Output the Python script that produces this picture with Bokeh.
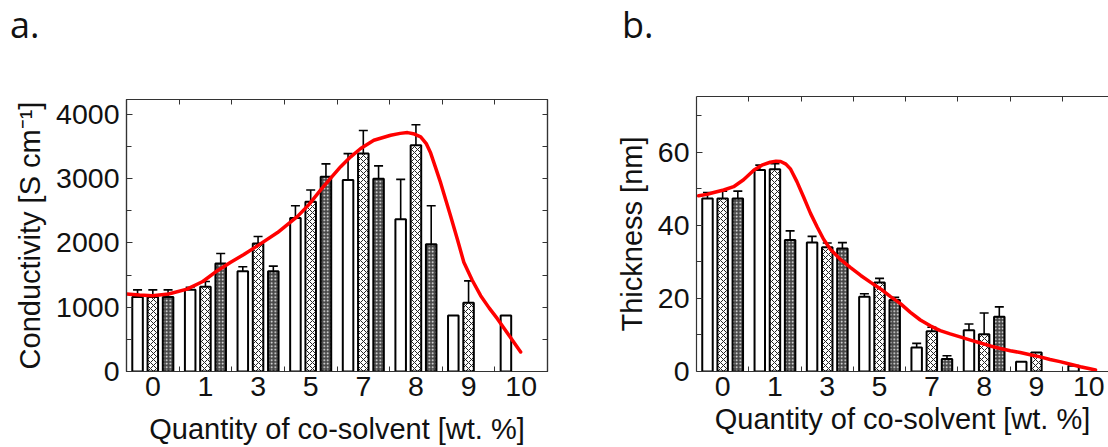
from bokeh.plotting import figure
from bokeh.layouts import row, column
from bokeh.models import ColumnDataSource, FixedTicker, LinearAxis, Range1d, Whisker, TeeHead, Div
from bokeh.embed import file_html
from bokeh.resources import INLINE

# ---------------- data ----------------
categories = ["0", "1", "3", "5", "7", "8", "9", "10"]

cond_open = [1160, 1270, 1560, 2390, 2980, 2370, 870, 870]
cond_open_err = [110, 40, 70, 190, 410, 620, 0, 0]
cond_cross = [1160, 1320, 1990, 2640, 3390, 3520, 1070, 0]
cond_cross_err = [110, 80, 110, 185, 360, 320, 340, 0]
cond_dense = [1160, 1680, 1560, 3030, 3000, 1980, 0, 0]
cond_dense_err = [110, 155, 80, 200, 200, 600, 0, 0]

# red guide curve (x in category-slot units, y in S/cm)
cond_fit_x = [0.0, 0.25, 0.49, 0.80, 1.15, 1.45, 1.72, 1.98, 2.23, 2.48, 2.87, 3.25,
              3.47, 3.69, 3.88, 4.07, 4.26, 4.45, 4.70, 5.02, 5.20, 5.34, 5.45, 5.59,
              5.70, 5.78, 5.87, 5.97, 6.07, 6.16, 6.29, 6.41, 6.57, 6.73, 6.89, 7.05,
              7.27, 7.49]
cond_fit_y = [1205, 1190, 1180, 1205, 1282, 1400, 1565, 1700, 1820, 1951, 2162, 2414,
              2600, 2826, 3010, 3187, 3340, 3470, 3598, 3676, 3705, 3717, 3700, 3650,
              3540, 3398, 3180, 2934, 2660, 2414, 2050, 1700, 1420, 1180, 990, 818,
              560, 304]

thick_open = [47.4, 55.2, 35.3, 20.5, 6.6, 11.3, 2.7, 1.6]
thick_open_err = [1.6, 1.3, 1.7, 0.8, 1.1, 1.7, 0, 0]
thick_cross = [47.4, 55.4, 34.0, 24.4, 11.0, 10.2, 5.2, 0]
thick_cross_err = [2.0, 1.5, 1.2, 1.1, 1.1, 5.8, 0, 0]
thick_dense = [47.4, 36.0, 33.7, 19.6, 3.4, 15.0, 0, 0]
thick_dense_err = [2.0, 2.5, 1.6, 0.7, 0.9, 2.7, 0, 0]

thick_fit_x = [0.04, 0.20, 0.33, 0.52, 0.71, 0.90, 1.10, 1.25, 1.41, 1.52, 1.61, 1.71,
               1.80, 1.92, 2.05, 2.18, 2.31, 2.43, 2.56, 2.75, 2.94, 3.14, 3.33, 3.52,
               3.71, 3.90, 4.09, 4.28, 4.47, 4.66, 4.85, 5.04, 5.24, 5.43, 5.62, 5.81,
               6.00, 6.19, 6.38, 6.57, 6.76, 6.95, 7.15, 7.34, 7.50, 7.63]
thick_fit_y = [48.1, 48.5, 49.0, 49.7, 50.6, 52.5, 55.2, 56.5, 57.3, 57.6, 57.5, 56.8,
               55.4, 52.0, 47.7, 43.3, 39.5, 36.2, 33.5, 30.7, 28.5, 26.3, 24.4, 22.6,
               20.5, 18.6, 16.2, 14.1, 12.5, 11.2, 10.3, 9.5, 8.6, 7.8, 7.0, 6.3,
               5.7, 5.2, 4.6, 4.0, 3.3, 2.7, 2.0, 1.3, 0.8, 0.4]

# ---------------- style ----------------
FONT = "Liberation Sans"
TXT = "#111111"
FRAME = "#333333"
OFFSETS = [-0.29, 0.0, 0.29]
BAR_W = 0.2
HEAD_H = 50
STYLES = [
    dict(fill_color="white"),
    dict(fill_color="white", hatch_pattern="diagonal_cross", hatch_color="#222222",
         hatch_scale=6, hatch_weight=1),
    dict(fill_color="#484848", hatch_pattern="dot", hatch_color="white",
         hatch_scale=3.5, hatch_weight=1.3),
]


def make_panel(series, fit_x, fit_y, ymax, yticks, yminor, ylabel, xend, width,
               border_left, border_right, border_top, border_bottom, right_frame,
               xlabel_standoff):
    n = len(categories)
    p = figure(width=width, height=447 - HEAD_H, output_backend="svg",
               toolbar_location=None,
               x_range=Range1d(0, xend), y_range=Range1d(0, ymax),
               min_border_left=border_left, min_border_right=border_right,
               min_border_top=border_top - HEAD_H, min_border_bottom=border_bottom,
               x_axis_location=None, y_axis_location=None)
    p.xgrid.visible = False
    p.ygrid.visible = False
    p.background_fill_color = "white"
    p.border_fill_color = "white"
    p.outline_line_color = FRAME if right_frame else None
    p.outline_line_width = 1.2

    centers = [i + 0.5 for i in range(n)]
    for k, (vals, errs) in enumerate(series):
        xs = [c + OFFSETS[k] for c, v in zip(centers, vals) if v > 0]
        tops = [v for v in vals if v > 0]
        p.vbar(x=xs, top=tops, bottom=0, width=BAR_W, line_color="black",
               line_width=2, **STYLES[k])
    for k, (vals, errs) in enumerate(series):
        ex = [c + OFFSETS[k] for c, v, e in zip(centers, vals, errs) if v > 0 and e > 0]
        up = [v + e for v, e in zip(vals, errs) if v > 0 and e > 0]
        lo = [v - e for v, e in zip(vals, errs) if v > 0 and e > 0]
        src = ColumnDataSource(dict(x=ex, upper=up, lower=lo))
        w = Whisker(source=src, base="x", upper="upper", lower="lower",
                    line_color="black", line_width=1.6,
                    upper_head=TeeHead(size=9, line_width=1.6, line_color="black"),
                    lower_head=TeeHead(size=9, line_width=1.6, line_color="black"))
        p.add_layout(w)

    p.line(fit_x, fit_y, line_color="#ff0000", line_width=3.5, line_join="round",
           line_cap="round")

    yl = LinearAxis(ticker=FixedTicker(ticks=yticks, minor_ticks=yminor))
    yl.axis_label = ylabel
    xb = LinearAxis(ticker=FixedTicker(ticks=centers, minor_ticks=list(range(1, n))))
    xb.major_label_overrides = {c: lab for c, lab in zip(centers, categories)}
    xb.axis_label = "Quantity of co-solvent [wt. %]"
    xt = LinearAxis(ticker=FixedTicker(ticks=[], minor_ticks=list(range(1, n))))
    axes = [(yl, "left"), (xb, "below"), (xt, "above")]
    if right_frame:
        yr = LinearAxis(ticker=FixedTicker(ticks=[], minor_ticks=sorted(yticks + yminor)))
        axes.append((yr, "right"))
    for ax, loc in axes:
        ax.axis_line_color = FRAME
        ax.axis_line_width = 1.2
        ax.major_tick_in = 6
        ax.major_tick_out = 0
        ax.minor_tick_in = 5
        ax.minor_tick_out = 0
        ax.major_tick_line_color = FRAME
        ax.minor_tick_line_color = FRAME
        ax.major_label_text_font = FONT
        ax.major_label_text_color = TXT
        ax.major_label_text_font_size = "28.5px"
        ax.axis_label_text_font = FONT
        ax.axis_label_text_font_style = "normal"
        ax.axis_label_text_color = TXT
        ax.axis_label_text_font_size = "29px"
        p.add_layout(ax, loc)
    xb.major_tick_in = 0
    xb.major_label_standoff = 5
    xb.axis_label_standoff = xlabel_standoff
    yl.major_label_standoff = 7
    yl.axis_label_standoff = 7
    xt.major_label_standoff = 0
    return p


def panel_tag(text, width, pad_left, pad_top):
    return Div(text=text, width=width, height=HEAD_H,
               styles={"font-family": "'Open Sans', sans-serif", "font-size": "36px",
                       "color": TXT, "padding-left": f"{pad_left}px",
                       "padding-top": f"{pad_top}px", "line-height": "normal",
                       "margin": "0px", "box-sizing": "border-box"})


pa = make_panel([(cond_open, cond_open_err), (cond_cross, cond_cross_err),
                 (cond_dense, cond_dense_err)], cond_fit_x, cond_fit_y,
                4232, [0, 1000, 2000, 3000, 4000], [500, 1500, 2500, 3500],
                "Conductivity [S cm\u207b\u00b9]", 8, 570, 126, 23, 99, 74, True, 14)
pb = make_panel([(thick_open, thick_open_err), (thick_cross, thick_cross_err),
                 (thick_dense, thick_dense_err)], thick_fit_x, thick_fit_y,
                75.3, [0, 20, 40, 60], [10, 30, 50, 70],
                "Thickness [nm]", 7.878, 538, 126, 0, 96, 76, False, 4)

layout = row(column(panel_tag("a.", 570, 10, 0), pa),
             column(panel_tag("b.", 538, 52, 0), pb))
open("out.html", "w").write(file_html(layout, INLINE))
